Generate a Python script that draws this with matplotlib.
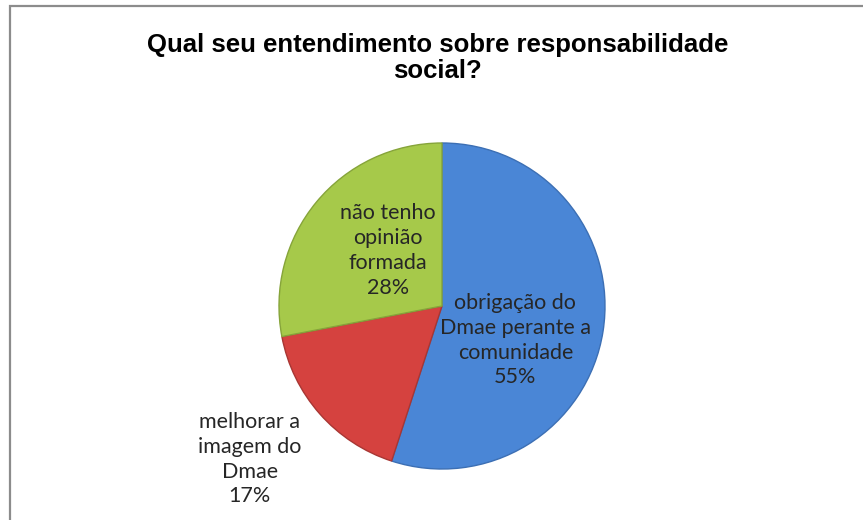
import matplotlib
matplotlib.use("Agg")
import matplotlib.pyplot as plt
from matplotlib.patches import Rectangle

# data
categories = ["obrigação do\nDmae perante a\ncomunidade",
              "melhorar a\nimagem do\nDmae",
              "não tenho\nopinião\nformada"]
values = [55, 17, 28]
colors = ["#4A86D6", "#D5423F", "#A6C94A"]
edges = ["#3C6FB4", "#A83633", "#86A43A"]
# label offsets in pie radius units
label_pos = [(0.45, -0.21), (-1.18, -0.94), (-0.33, 0.34)]

fig = plt.figure(figsize=(8.63, 5.2), dpi=100)
fig.patches.append(Rectangle((9.5 / 863, -0.1), 1.2, 1 - 6.5 / 520 + 0.1,
                             transform=fig.transFigure, fill=False,
                             edgecolor="#8c8c8c", linewidth=1.6))

cx, cy, r = 442, 306, 163
ax = fig.add_axes([(cx - r) / 863, (520 - cy - r) / 520, 2 * r / 863, 2 * r / 520])
wedges, _ = ax.pie(values, colors=colors, startangle=90, counterclock=False,
                   radius=1, wedgeprops=dict(linewidth=1.0))
for w, ec in zip(wedges, edges):
    w.set_edgecolor(ec)
ax.set_xlim(-1, 1)
ax.set_ylim(-1, 1)
ax.set_aspect("auto")
ax.axis("off")

for name, v, (x, y) in zip(categories, values, label_pos):
    ax.text(x, y, f"{name}\n{v}%", ha="center", va="center", fontsize=15.5,
            family="Lato", color="#262626", linespacing=1.3, clip_on=False)

fig.text(0.507, 0.888, "Qual seu entendimento sobre responsabilidade\nsocial?",
         ha="center", va="center", fontsize=18.5, fontweight="bold",
         family="Liberation Sans", linespacing=1.1)

fig.savefig("out.png", dpi=100)
